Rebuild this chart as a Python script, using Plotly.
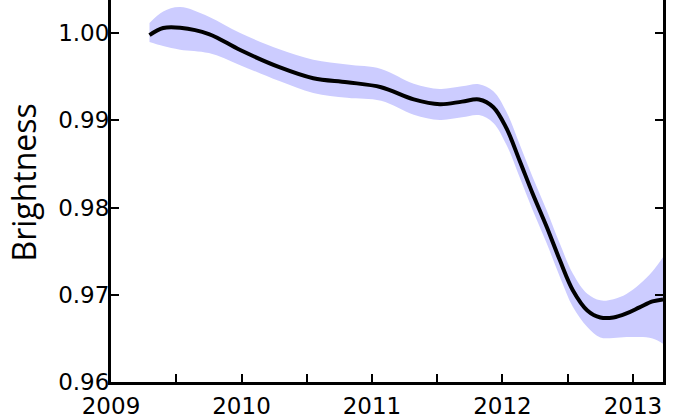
import plotly.graph_objects as go

years = [2009.295, 2009.40, 2009.53, 2009.75, 2009.99, 2010.29, 2010.55, 2010.81, 2011.07,
         2011.32, 2011.52, 2011.69, 2011.82, 2011.93, 2012.03, 2012.13, 2012.23, 2012.34,
         2012.44, 2012.54, 2012.65, 2012.75, 2012.85, 2012.95, 2013.05, 2013.15, 2013.23]
brightness = [0.99978, 1.00059, 1.00062, 0.99990, 0.99806, 0.99610, 0.99483, 0.99437, 0.99380,
              0.99240, 0.99185, 0.99215, 0.99240, 0.99151, 0.98910, 0.98543, 0.98164, 0.97774,
              0.97395, 0.97050, 0.96821, 0.96740, 0.96740, 0.96786, 0.96855, 0.96924, 0.96947]
upper = [1.00115, 1.00247, 1.00300, 1.00189, 1.00001, 0.99815, 0.99695, 0.99640, 0.99590,
         0.99420, 0.99360, 0.99390, 0.99415, 0.99335, 0.99100, 0.98733, 0.98354, 0.97964,
         0.97585, 0.97240, 0.97011, 0.96936, 0.96950, 0.97010, 0.97120, 0.97270, 0.97430]
lower = [0.99898, 0.99852, 0.99810, 0.99771, 0.99633, 0.99450, 0.99315, 0.99260, 0.99225,
         0.99065, 0.99005, 0.99035, 0.99060, 0.98970, 0.98720, 0.98353, 0.97974, 0.97584,
         0.97205, 0.96860, 0.96631, 0.96511, 0.96505, 0.96515, 0.96515, 0.96500, 0.96440]

x_range = [2009, 2013.23]
y_range = [0.96, 1.0038]
y_ticks = [0.96, 0.97, 0.98, 0.99, 1.00]
y_ticktext = ["0.96", "0.97", "0.98", "0.99", "1.00"]
x_ticks = [2009, 2010, 2011, 2012, 2013]

band_color = "rgb(204,204,255)"

fig = go.Figure()
fig.add_trace(go.Scatter(x=years, y=upper, mode="lines", line=dict(width=0, color=band_color, shape="spline"),
                         hoverinfo="skip", showlegend=False))
fig.add_trace(go.Scatter(x=years, y=lower, mode="lines", line=dict(width=0, color=band_color, shape="spline"),
                         fill="tonexty", fillcolor=band_color, hoverinfo="skip", showlegend=False))
fig.add_trace(go.Scatter(x=years, y=brightness, mode="lines",
                         line=dict(color="black", width=4, shape="spline"), showlegend=False))

tickfont = dict(family="DejaVu Sans", size=23, color="black")
fig.update_xaxes(range=x_range, tickvals=x_ticks, ticktext=[str(v) for v in x_ticks],
                 ticks="inside", ticklen=8, tickwidth=2, tickcolor="black",
                 minor=dict(dtick=0.5, tick0=2009, ticks="inside", ticklen=8, tickwidth=2, tickcolor="black"),
                 showline=True, linewidth=3, linecolor="black", mirror=False,
                 showgrid=False, zeroline=False, tickfont=tickfont, ticklabelstandoff=1)
fig.update_yaxes(range=y_range, tickvals=y_ticks, ticktext=y_ticktext,
                 ticks="inside", ticklen=8, tickwidth=2, tickcolor="black",
                 showline=True, linewidth=3, linecolor="black", mirror="ticks",
                 showgrid=False, zeroline=False, tickfont=tickfont, ticklabelstandoff=-6)

fig.add_annotation(text="Brightness", xref="paper", yref="paper", x=-0.158, y=0.5216,
                   xanchor="center", yanchor="middle", textangle=-90, showarrow=False,
                   font=dict(family="Open Sans", size=32, color="black"))

fig.update_layout(width=700, height=420, margin=dict(l=111, r=37, t=0, b=38),
                  plot_bgcolor="white", paper_bgcolor="white")

fig.write_html("out.html", config={"displayModeBar": False},
               post_script="document.body.style.margin='0';")
